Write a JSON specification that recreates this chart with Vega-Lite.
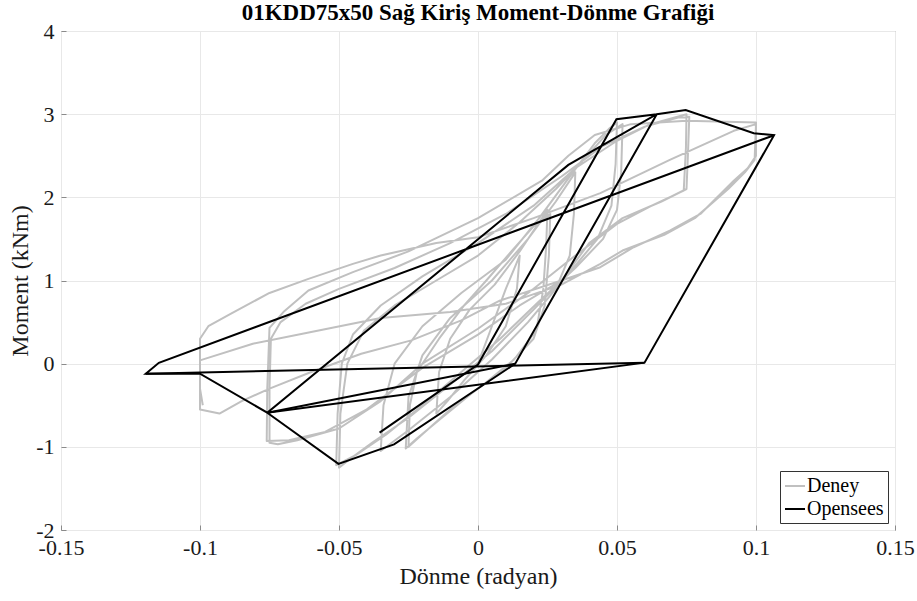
{
  "$schema": "https://vega.github.io/schema/vega-lite/v6.json",
  "width": 834,
  "height": 499,
  "autosize": {"type": "none"},
  "padding": {"left": 61, "top": 31, "right": 22, "bottom": 71},
  "background": "white",
  "config": {
    "font": "Liberation Serif",
    "view": {"stroke": "#8a8a8a", "strokeWidth": 1},
    "axis": {
      "domain": false,
      "grid": true,
      "gridColor": "#e8e8e8",
      "gridWidth": 1,
      "ticks": true,
      "tickColor": "#8a8a8a",
      "tickSize": -5,
      "labelFont": "Liberation Serif",
      "labelFontSize": 22,
      "labelColor": "#1a1a1a",
      "titleFont": "Liberation Serif",
      "titleFontSize": 24,
      "titleFontWeight": "normal",
      "titleColor": "#1a1a1a"
    }
  },
  "title": {
    "text": "01KDD75x50 Sağ Kiriş Moment-Dönme Grafiği",
    "font": "Liberation Serif",
    "fontSize": 23,
    "fontWeight": "bold",
    "color": "#000000",
    "anchor": "middle",
    "offset": -5
  },
  "datasets": {
    "deney": [
      {"s": "Deney", "x": 0, "y": 0},
      {"s": "Deney", "x": 0.005, "y": 0.45},
      {"s": "Deney", "x": 0.01, "y": 0.9},
      {"s": "Deney", "x": 0.015, "y": 1.3},
      {"s": "Deney", "x": 0.014, "y": 0.9},
      {"s": "Deney", "x": 0.01, "y": 0.45},
      {"s": "Deney", "x": 0.003, "y": 0.1},
      {"s": "Deney", "x": -0.005, "y": -0.2},
      {"s": "Deney", "x": -0.011, "y": -0.45},
      {"s": "Deney", "x": -0.015, "y": -0.6},
      {"s": "Deney", "x": -0.014, "y": -0.1},
      {"s": "Deney", "x": -0.01, "y": 0.3},
      {"s": "Deney", "x": -0.003, "y": 0.65},
      {"s": "Deney", "x": 0.006, "y": 0.95},
      {"s": "Deney", "x": 0.015, "y": 1.35},
      {"s": "Deney", "x": 0.021, "y": 1.65},
      {"s": "Deney", "x": 0.025, "y": 1.85},
      {"s": "Deney", "x": 0.0245, "y": 1.4},
      {"s": "Deney", "x": 0.0235, "y": 0.9},
      {"s": "Deney", "x": 0.021, "y": 0.4},
      {"s": "Deney", "x": 0.013, "y": 0.05},
      {"s": "Deney", "x": 0.002, "y": -0.25},
      {"s": "Deney", "x": -0.01, "y": -0.55},
      {"s": "Deney", "x": -0.02, "y": -0.85},
      {"s": "Deney", "x": -0.025, "y": -1.0},
      {"s": "Deney", "x": -0.0245, "y": -0.5},
      {"s": "Deney", "x": -0.022, "y": -0.1},
      {"s": "Deney", "x": -0.014, "y": 0.3},
      {"s": "Deney", "x": -0.005, "y": 0.7},
      {"s": "Deney", "x": 0.003, "y": 1.0},
      {"s": "Deney", "x": 0.012, "y": 1.35},
      {"s": "Deney", "x": 0.02, "y": 1.65},
      {"s": "Deney", "x": 0.026, "y": 1.8},
      {"s": "Deney", "x": 0.0255, "y": 1.3},
      {"s": "Deney", "x": 0.024, "y": 0.7},
      {"s": "Deney", "x": 0.02, "y": 0.3},
      {"s": "Deney", "x": 0.01, "y": -0.05},
      {"s": "Deney", "x": -0.002, "y": -0.35},
      {"s": "Deney", "x": -0.013, "y": -0.65},
      {"s": "Deney", "x": -0.022, "y": -0.9},
      {"s": "Deney", "x": -0.026, "y": -1.02},
      {"s": "Deney", "x": -0.025, "y": -0.4},
      {"s": "Deney", "x": -0.02, "y": 0.1},
      {"s": "Deney", "x": -0.01, "y": 0.55},
      {"s": "Deney", "x": 0.005, "y": 1.0},
      {"s": "Deney", "x": 0.018, "y": 1.5},
      {"s": "Deney", "x": 0.028, "y": 1.95},
      {"s": "Deney", "x": 0.035, "y": 2.3},
      {"s": "Deney", "x": 0.0345, "y": 1.8},
      {"s": "Deney", "x": 0.033, "y": 1.3},
      {"s": "Deney", "x": 0.028, "y": 0.9},
      {"s": "Deney", "x": 0.018, "y": 0.5},
      {"s": "Deney", "x": 0.005, "y": 0.05},
      {"s": "Deney", "x": -0.01, "y": -0.4},
      {"s": "Deney", "x": -0.025, "y": -0.8},
      {"s": "Deney", "x": -0.035, "y": -1.05},
      {"s": "Deney", "x": -0.034, "y": -0.5},
      {"s": "Deney", "x": -0.03, "y": 0.0},
      {"s": "Deney", "x": -0.02, "y": 0.45},
      {"s": "Deney", "x": -0.006, "y": 0.85},
      {"s": "Deney", "x": 0.01, "y": 1.25},
      {"s": "Deney", "x": 0.022, "y": 1.75},
      {"s": "Deney", "x": 0.033, "y": 2.25},
      {"s": "Deney", "x": 0.042, "y": 2.65},
      {"s": "Deney", "x": 0.047, "y": 2.82},
      {"s": "Deney", "x": 0.05, "y": 2.9},
      {"s": "Deney", "x": 0.0495, "y": 2.4},
      {"s": "Deney", "x": 0.048, "y": 1.9},
      {"s": "Deney", "x": 0.043, "y": 1.5},
      {"s": "Deney", "x": 0.033, "y": 1.1},
      {"s": "Deney", "x": 0.02, "y": 0.65},
      {"s": "Deney", "x": 0.005, "y": 0.15},
      {"s": "Deney", "x": -0.01, "y": -0.25},
      {"s": "Deney", "x": -0.025, "y": -0.65},
      {"s": "Deney", "x": -0.038, "y": -0.95},
      {"s": "Deney", "x": -0.045, "y": -1.12},
      {"s": "Deney", "x": -0.05, "y": -1.25},
      {"s": "Deney", "x": -0.0495, "y": -0.6},
      {"s": "Deney", "x": -0.047, "y": 0.0},
      {"s": "Deney", "x": -0.041, "y": 0.4},
      {"s": "Deney", "x": -0.03, "y": 0.7},
      {"s": "Deney", "x": -0.015, "y": 1.0},
      {"s": "Deney", "x": 0, "y": 1.3},
      {"s": "Deney", "x": 0.015, "y": 1.7},
      {"s": "Deney", "x": 0.028, "y": 2.1},
      {"s": "Deney", "x": 0.038, "y": 2.45},
      {"s": "Deney", "x": 0.046, "y": 2.75},
      {"s": "Deney", "x": 0.052, "y": 2.88},
      {"s": "Deney", "x": 0.0515, "y": 2.3},
      {"s": "Deney", "x": 0.05, "y": 1.85},
      {"s": "Deney", "x": 0.045, "y": 1.5},
      {"s": "Deney", "x": 0.035, "y": 1.15},
      {"s": "Deney", "x": 0.022, "y": 0.75},
      {"s": "Deney", "x": 0.008, "y": 0.3},
      {"s": "Deney", "x": -0.006, "y": -0.1},
      {"s": "Deney", "x": -0.02, "y": -0.5},
      {"s": "Deney", "x": -0.033, "y": -0.85},
      {"s": "Deney", "x": -0.044, "y": -1.1},
      {"s": "Deney", "x": -0.051, "y": -1.22},
      {"s": "Deney", "x": -0.0505, "y": -0.6},
      {"s": "Deney", "x": -0.049, "y": 0.0},
      {"s": "Deney", "x": -0.045, "y": 0.35},
      {"s": "Deney", "x": -0.035, "y": 0.7},
      {"s": "Deney", "x": -0.02, "y": 1.05},
      {"s": "Deney", "x": 0, "y": 1.45},
      {"s": "Deney", "x": 0.02, "y": 1.9},
      {"s": "Deney", "x": 0.035, "y": 2.35},
      {"s": "Deney", "x": 0.05, "y": 2.68},
      {"s": "Deney", "x": 0.062, "y": 2.88},
      {"s": "Deney", "x": 0.075, "y": 3.0},
      {"s": "Deney", "x": 0.0748, "y": 2.6},
      {"s": "Deney", "x": 0.074, "y": 2.08},
      {"s": "Deney", "x": 0.0625, "y": 1.9},
      {"s": "Deney", "x": 0.05, "y": 1.68},
      {"s": "Deney", "x": 0.035, "y": 1.3},
      {"s": "Deney", "x": 0.02, "y": 0.9},
      {"s": "Deney", "x": 0, "y": 0.42},
      {"s": "Deney", "x": -0.02, "y": 0.0},
      {"s": "Deney", "x": -0.035, "y": -0.45},
      {"s": "Deney", "x": -0.05, "y": -0.78},
      {"s": "Deney", "x": -0.065, "y": -0.92},
      {"s": "Deney", "x": -0.072, "y": -0.97},
      {"s": "Deney", "x": -0.075, "y": -0.95},
      {"s": "Deney", "x": -0.075, "y": -0.3},
      {"s": "Deney", "x": -0.0745, "y": 0.3},
      {"s": "Deney", "x": -0.071, "y": 0.5},
      {"s": "Deney", "x": -0.062, "y": 0.72},
      {"s": "Deney", "x": -0.05, "y": 0.9},
      {"s": "Deney", "x": -0.03, "y": 1.15},
      {"s": "Deney", "x": -0.01, "y": 1.45},
      {"s": "Deney", "x": 0.01, "y": 1.8},
      {"s": "Deney", "x": 0.03, "y": 2.25},
      {"s": "Deney", "x": 0.045, "y": 2.62},
      {"s": "Deney", "x": 0.06, "y": 2.85},
      {"s": "Deney", "x": 0.072, "y": 2.96},
      {"s": "Deney", "x": 0.076, "y": 2.97},
      {"s": "Deney", "x": 0.0755, "y": 2.5},
      {"s": "Deney", "x": 0.075, "y": 2.1},
      {"s": "Deney", "x": 0.066, "y": 1.95},
      {"s": "Deney", "x": 0.052, "y": 1.75},
      {"s": "Deney", "x": 0.04, "y": 1.45},
      {"s": "Deney", "x": 0.03, "y": 1.0},
      {"s": "Deney", "x": 0.015, "y": 0.7},
      {"s": "Deney", "x": 0, "y": 0.35},
      {"s": "Deney", "x": -0.02, "y": -0.05},
      {"s": "Deney", "x": -0.04, "y": -0.55},
      {"s": "Deney", "x": -0.055, "y": -0.82},
      {"s": "Deney", "x": -0.068, "y": -0.92},
      {"s": "Deney", "x": -0.076, "y": -0.93},
      {"s": "Deney", "x": -0.0758, "y": -0.3},
      {"s": "Deney", "x": -0.075, "y": 0.43},
      {"s": "Deney", "x": -0.07, "y": 0.62},
      {"s": "Deney", "x": -0.061, "y": 0.88},
      {"s": "Deney", "x": -0.045, "y": 1.1},
      {"s": "Deney", "x": -0.025, "y": 1.35},
      {"s": "Deney", "x": 0, "y": 1.75},
      {"s": "Deney", "x": 0.023, "y": 2.2},
      {"s": "Deney", "x": 0.0325, "y": 2.5},
      {"s": "Deney", "x": 0.042, "y": 2.75},
      {"s": "Deney", "x": 0.055, "y": 2.88},
      {"s": "Deney", "x": 0.075, "y": 2.92},
      {"s": "Deney", "x": 0.1, "y": 2.9},
      {"s": "Deney", "x": 0.1, "y": 2.5},
      {"s": "Deney", "x": 0.097, "y": 2.35},
      {"s": "Deney", "x": 0.092, "y": 2.2},
      {"s": "Deney", "x": 0.08, "y": 1.8},
      {"s": "Deney", "x": 0.069, "y": 1.6},
      {"s": "Deney", "x": 0.056, "y": 1.4},
      {"s": "Deney", "x": 0.044, "y": 1.16},
      {"s": "Deney", "x": 0.03, "y": 1.0},
      {"s": "Deney", "x": 0.008, "y": 0.76},
      {"s": "Deney", "x": -0.006, "y": 0.52},
      {"s": "Deney", "x": -0.024, "y": 0.28},
      {"s": "Deney", "x": -0.042, "y": 0.12},
      {"s": "Deney", "x": -0.06, "y": -0.1},
      {"s": "Deney", "x": -0.075, "y": -0.3},
      {"s": "Deney", "x": -0.085, "y": -0.45},
      {"s": "Deney", "x": -0.093, "y": -0.6},
      {"s": "Deney", "x": -0.1, "y": -0.55},
      {"s": "Deney", "x": -0.1, "y": 0.0},
      {"s": "Deney", "x": -0.1, "y": 0.3},
      {"s": "Deney", "x": -0.097, "y": 0.45},
      {"s": "Deney", "x": -0.089, "y": 0.6},
      {"s": "Deney", "x": -0.075, "y": 0.85},
      {"s": "Deney", "x": -0.061, "y": 1.02},
      {"s": "Deney", "x": -0.045, "y": 1.2},
      {"s": "Deney", "x": -0.035, "y": 1.3},
      {"s": "Deney", "x": -0.015, "y": 1.45},
      {"s": "Deney", "x": 0, "y": 1.52},
      {"s": "Deney", "x": 0.02, "y": 1.75},
      {"s": "Deney", "x": 0.044, "y": 2.05},
      {"s": "Deney", "x": 0.069, "y": 2.45},
      {"s": "Deney", "x": 0.092, "y": 2.8},
      {"s": "Deney", "x": 0.1, "y": 2.88},
      {"s": "Deney", "x": 0.0995, "y": 2.45},
      {"s": "Deney", "x": 0.096, "y": 2.3},
      {"s": "Deney", "x": 0.09, "y": 2.1},
      {"s": "Deney", "x": 0.078, "y": 1.75},
      {"s": "Deney", "x": 0.067, "y": 1.55},
      {"s": "Deney", "x": 0.052, "y": 1.36},
      {"s": "Deney", "x": 0.044, "y": 1.2},
      {"s": "Deney", "x": 0.03, "y": 0.95},
      {"s": "Deney", "x": 0.01, "y": 0.72},
      {"s": "Deney", "x": -0.01, "y": 0.62},
      {"s": "Deney", "x": -0.035, "y": 0.55},
      {"s": "Deney", "x": -0.06, "y": 0.38},
      {"s": "Deney", "x": -0.081, "y": 0.24},
      {"s": "Deney", "x": -0.1, "y": 0.04},
      {"s": "Deney", "x": -0.1, "y": -0.3},
      {"s": "Deney", "x": -0.099, "y": -0.5}
    ],
    "opensees": [
      {"s": "Opensees", "p": 1, "x": -0.0354, "y": -0.83},
      {"s": "Opensees", "p": 1, "x": 0, "y": -0.01},
      {"s": "Opensees", "p": 1, "x": 0.0498, "y": 2.94},
      {"s": "Opensees", "p": 1, "x": 0.0643, "y": 3.0},
      {"s": "Opensees", "p": 1, "x": 0.0134, "y": 0.0},
      {"s": "Opensees", "p": 1, "x": -0.0302, "y": -0.97},
      {"s": "Opensees", "p": 1, "x": -0.0502, "y": -1.205},
      {"s": "Opensees", "p": 1, "x": -0.0758, "y": -0.59},
      {"s": "Opensees", "p": 1, "x": 0.0325, "y": 2.39},
      {"s": "Opensees", "p": 1, "x": 0.0643, "y": 3.0},
      {"s": "Opensees", "p": 1, "x": 0.0747, "y": 3.05},
      {"s": "Opensees", "p": 1, "x": 0.0992, "y": 2.77},
      {"s": "Opensees", "p": 1, "x": 0.1065, "y": 2.747},
      {"s": "Opensees", "p": 1, "x": 0.0599, "y": 0.012},
      {"s": "Opensees", "p": 1, "x": -0.0758, "y": -0.59},
      {"s": "Opensees", "p": 1, "x": -0.1, "y": -0.12},
      {"s": "Opensees", "p": 1, "x": -0.1195, "y": -0.12},
      {"s": "Opensees", "p": 1, "x": -0.1148, "y": 0.01},
      {"s": "Opensees", "p": 1, "x": 0.1065, "y": 2.747},
      {"s": "Opensees", "p": 2, "x": 0.0599, "y": 0.012},
      {"s": "Opensees", "p": 2, "x": -0.1195, "y": -0.12},
      {"s": "Opensees", "p": 3, "x": -0.0758, "y": -0.59},
      {"s": "Opensees", "p": 3, "x": 0.0134, "y": 0.0}
    ]
  },
  "layer": [
    {
      "data": {"name": "deney"},
      "mark": {"type": "line", "strokeWidth": 2, "clip": true, "strokeJoin": "round"},
      "encoding": {
        "x": {"field": "x", "type": "quantitative"},
        "y": {"field": "y", "type": "quantitative"},
        "color": {"field": "s", "type": "nominal"},
        "order": {"value": null}
      }
    },
    {
      "data": {"name": "opensees"},
      "mark": {"type": "line", "strokeWidth": 2, "clip": true},
      "encoding": {
        "x": {"field": "x", "type": "quantitative"},
        "y": {"field": "y", "type": "quantitative"},
        "color": {"field": "s", "type": "nominal"},
        "detail": {"field": "p", "type": "nominal"},
        "order": {"value": null}
      }
    }
  ],
  "resolve": {"scale": {"color": "shared"}},
  "encoding": {
    "x": {
      "field": "x",
      "type": "quantitative",
      "scale": {"domain": [-0.15, 0.15], "nice": false, "zero": false},
      "axis": {
        "title": "Dönme (radyan)",
        "values": [-0.15, -0.1, -0.05, 0, 0.05, 0.1, 0.15],
        "labelExpr": "'' + datum.value",
        "labelPadding": 12,
        "titlePadding": 6,
        "labelFlush": false
      }
    },
    "y": {
      "field": "y",
      "type": "quantitative",
      "scale": {"domain": [-2, 4], "nice": false, "zero": false},
      "axis": {
        "title": "Moment (kNm)",
        "values": [-2, -1, 0, 1, 2, 3, 4],
        "labelExpr": "'' + datum.value",
        "labelPadding": 12,
        "titlePadding": 3,
        "labelFlush": false
      }
    },
    "color": {
      "field": "s",
      "type": "nominal",
      "scale": {"domain": ["Deney", "Opensees"], "range": ["#c0c0c0", "#000000"]},
      "legend": {
        "title": null,
        "orient": "bottom-right",
        "offset": 7,
        "symbolType": "stroke",
        "symbolStrokeWidth": 2,
        "symbolSize": 400,
        "labelFont": "Liberation Serif",
        "labelFontSize": 20,
        "labelColor": "#000000",
        "labelOffset": 1,
        "rowPadding": 2,
        "padding": 4,
        "strokeColor": "#333333",
        "fillColor": "white"
      }
    }
  }
}
